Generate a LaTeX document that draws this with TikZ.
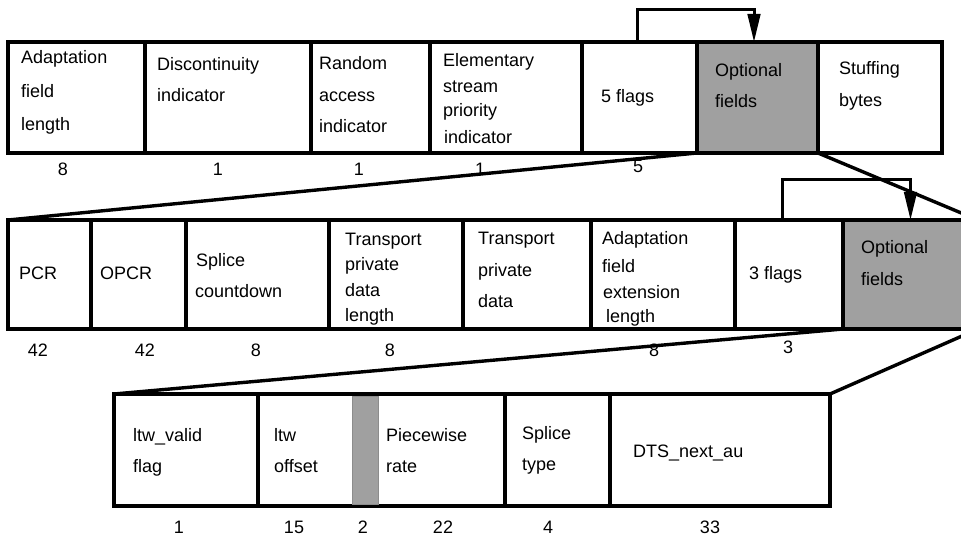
\documentclass[tikz,border=0pt]{standalone}
\usepackage{fontspec}
\setmainfont{Liberation Sans}
\usetikzlibrary{arrows.meta}
\definecolor{fieldgrey}{RGB}{160,160,160}
\begin{document}
\begin{tikzpicture}[x=1pt,y=-1pt,
  cell/.style={draw, line width=3.8pt, inner sep=0pt, outer sep=0pt, anchor=north west},
  optcell/.style={cell, fill=fieldgrey},
  strip/.style={fill=fieldgrey, draw=black!45, line width=0.8pt, inner sep=0pt, outer sep=0pt, anchor=north west},
  lbl/.style={anchor=base west, inner sep=0pt, font=\fontsize{18}{18}\selectfont},
  num/.style={anchor=base, inner sep=0pt, font=\fontsize{18}{18}\selectfont},
  zoomline/.style={line width=3.4pt},
  flagarrow/.style={line width=3pt, -{Triangle[length=28pt,width=12.5pt]}}]
\path[use as bounding box] (0,0) rectangle (961,537);
\clip (0,0) rectangle (961,537);

% adaptation field header
\node[cell, minimum width=137pt, minimum height=111pt] (a1) at (8,42) {};
\node[cell, minimum width=166pt, minimum height=111pt] (a2) at (145,42) {};
\node[cell, minimum width=119pt, minimum height=111pt] (a3) at (311,42) {};
\node[cell, minimum width=152pt, minimum height=111pt] (a4) at (430,42) {};
\node[cell, minimum width=115pt, minimum height=111pt] (a5) at (582,42) {};
\node[optcell, minimum width=121pt, minimum height=111pt] (a6) at (697,42) {};
\node[cell, minimum width=124pt, minimum height=111pt] (a7) at (818,42) {};

% optional fields of the header
\node[cell, minimum width=83pt, minimum height=109pt] (b1) at (8,220) {};
\node[cell, minimum width=95pt, minimum height=109pt] (b2) at (91,220) {};
\node[cell, minimum width=143pt, minimum height=109pt] (b3) at (186,220) {};
\node[cell, minimum width=134pt, minimum height=109pt] (b4) at (329,220) {};
\node[cell, minimum width=128pt, minimum height=109pt] (b5) at (463,220) {};
\node[cell, minimum width=144pt, minimum height=109pt] (b6) at (591,220) {};
\node[cell, minimum width=108pt, minimum height=109pt] (b7) at (735,220) {};
\node[optcell, minimum width=135pt, minimum height=109pt] (b8) at (843,220) {};

% extension fields
\node[cell, minimum width=144pt, minimum height=112pt] (c1) at (114,394) {};
\node[cell, minimum width=118pt, minimum height=112pt] (c2) at (258,394) {};
\node[cell, minimum width=129pt, minimum height=112pt] (c4) at (376,394) {};
\node[cell, minimum width=105pt, minimum height=112pt] (c5) at (505,394) {};
\node[cell, minimum width=220pt, minimum height=112pt] (c6) at (610,394) {};
\node[strip, minimum width=26pt, minimum height=108pt] (c3) at (352,396) {};

% expansion lines
\draw[zoomline] (a6.south west) -- (b1.north west);
\draw[zoomline] (a6.south east) -- (b8.north east);
\draw[zoomline] (b8.south west) -- (c1.north west);
\draw[zoomline] (b8.south east) -- (c6.north east);

% flag arrows
\draw[flagarrow] ([xshift=-2.5pt]a5.north) -- ++(0,-32) -| ([xshift=-3.5pt]a6.north);
\draw[flagarrow] ([xshift=-7pt]b7.north) -- ++(0,-40) -| (b8.north);

% labels, first row
\node[lbl] (a1l1) at (21,64) {Adaptation};
\node[lbl] (a1l2) at (21,98) {field};
\node[lbl] (a1l3) at (21,131) {length};
\node[lbl] (a2l1) at (157,71) {Discontinuity};
\node[lbl] (a2l2) at (157,102) {indicator};
\node[lbl] (a3l1) at (319,70) {Random};
\node[lbl] (a3l2) at (319,102) {access};
\node[lbl] (a3l3) at (319,133) {indicator};
\node[lbl] (a4l1) at (443,67) {Elementary};
\node[lbl] (a4l2) at (443,93) {stream};
\node[lbl] (a4l3) at (443,117) {priority};
\node[lbl] (a4l4) at (444,144) {indicator};
\node[lbl] (a5l1) at (601,103) {5 flags};
\node[lbl] (a6l1) at (715,77) {Optional};
\node[lbl] (a6l2) at (715,108) {fields};
\node[lbl] (a7l1) at (839,75) {Stuffing};
\node[lbl] (a7l2) at (839,107) {bytes};

% labels, second row
\node[lbl] (b1l1) at (19,280) {PCR};
\node[lbl] (b2l1) at (100,280) {OPCR};
\node[lbl] (b3l1) at (196,267) {Splice};
\node[lbl] (b3l2) at (195,298) {countdown};
\node[lbl] (b4l1) at (345,246) {Transport};
\node[lbl] (b4l2) at (345,271) {private};
\node[lbl] (b4l3) at (345,297) {data};
\node[lbl] (b4l4) at (345,322) {length};
\node[lbl] (b5l1) at (478,245) {Transport};
\node[lbl] (b5l2) at (478,277) {private};
\node[lbl] (b5l3) at (478,308) {data};
\node[lbl] (b6l1) at (602,245) {Adaptation};
\node[lbl] (b6l2) at (602,273) {field};
\node[lbl] (b6l3) at (603,299) {extension};
\node[lbl] (b6l4) at (606,323) {length};
\node[lbl] (b7l1) at (749,280) {3 flags};
\node[lbl] (b8l1) at (861,254) {Optional};
\node[lbl] (b8l2) at (861,286) {fields};

% labels, third row
\node[lbl] (c1l1) at (133,441) {ltw\_valid};
\node[lbl] (c1l2) at (133,472) {flag};
\node[lbl] (c2l1) at (274,441) {ltw};
\node[lbl] (c2l2) at (274,472) {offset};
\node[lbl] (c4l1) at (386,441) {Piecewise};
\node[lbl] (c4l2) at (386,472) {rate};
\node[lbl] (c5l1) at (522,439) {Splice};
\node[lbl] (c5l2) at (522,470) {type};
\node[lbl] (c6l1) at (633,457) {DTS\_next\_au};

% bit counts
\node[num] (n1) at (63,176) {8};
\node[num] (n2) at (218,176) {1};
\node[num] (n3) at (359,176) {1};
\node[num] (n4) at (480,176) {1};
\node[num] (n5) at (638,173) {5};
\node[num] (m1) at (38,356) {42};
\node[num] (m2) at (145,356) {42};
\node[num] (m3) at (256,356) {8};
\node[num] (m4) at (390,356) {8};
\node[num] (m5) at (654,356) {8};
\node[num] (m6) at (788,353) {3};
\node[num] (k1) at (179,533) {1};
\node[num] (k2) at (294,533) {15};
\node[num] (k3) at (363,533) {2};
\node[num] (k4) at (443,533) {22};
\node[num] (k5) at (548,533) {4};
\node[num] (k6) at (710,533) {33};
\end{tikzpicture}
\end{document}
